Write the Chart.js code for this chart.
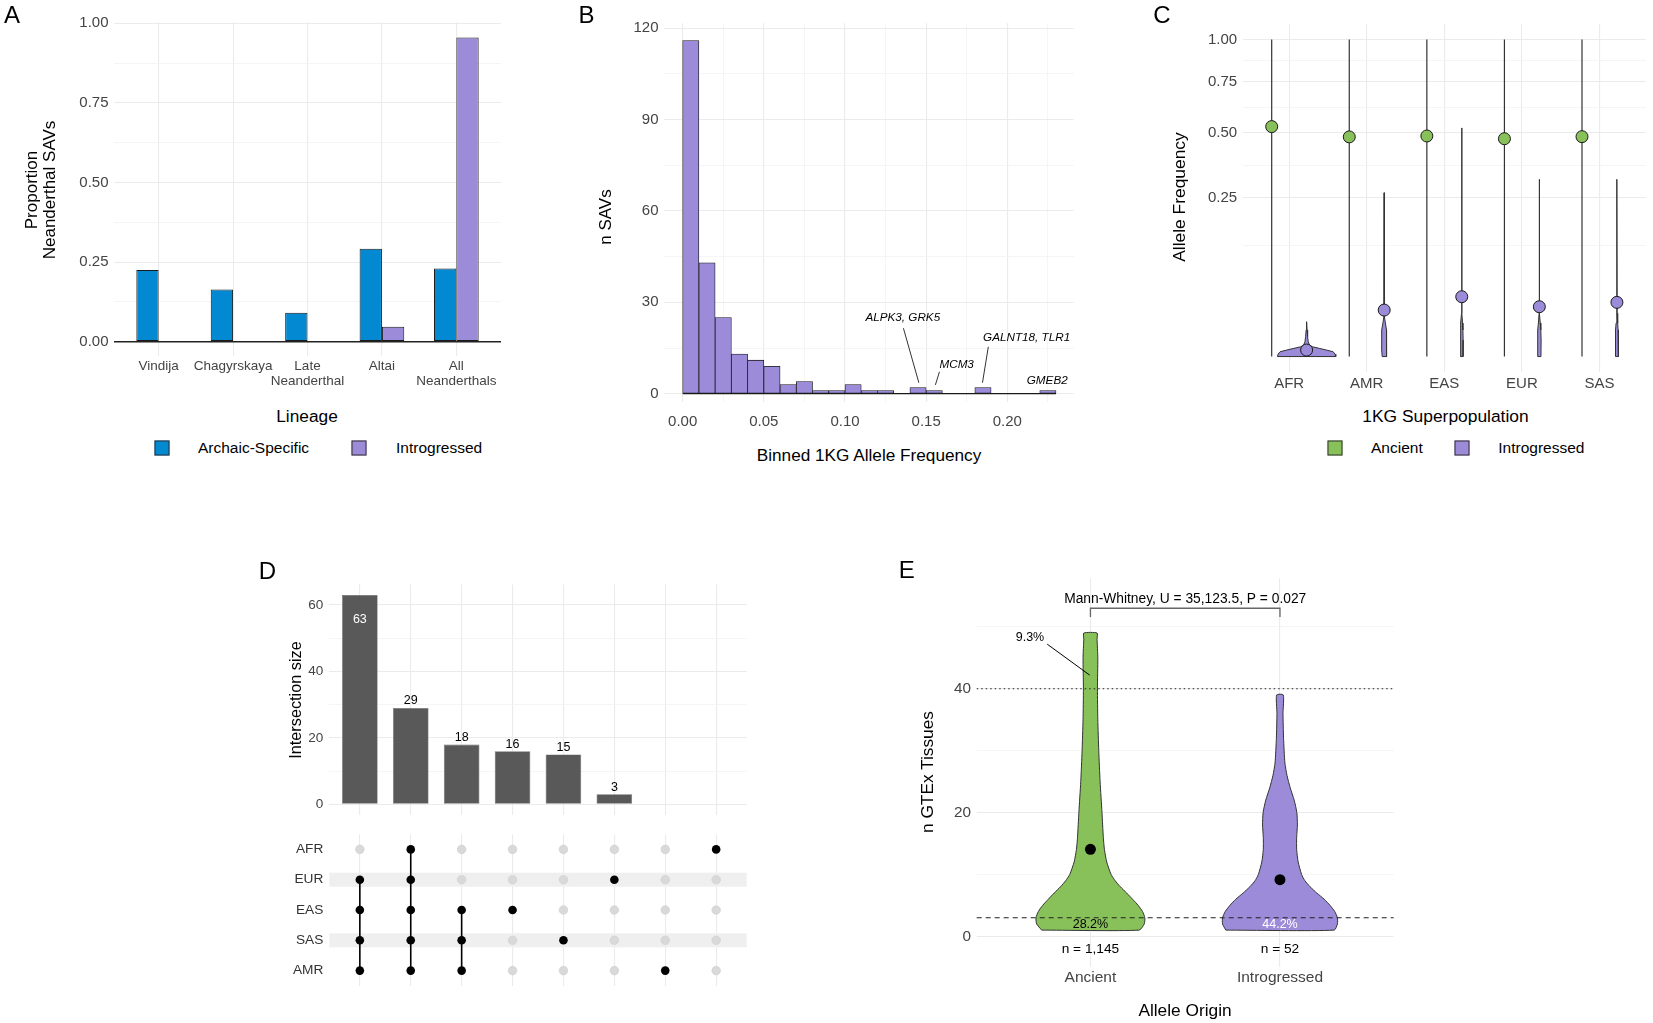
<!DOCTYPE html>
<html>
<head>
<meta charset="utf-8">
<title>Neanderthal SAVs</title>
<script src="https://cdn.jsdelivr.net/npm/chart.js@4.4.1/dist/chart.umd.min.js"></script>
<style>
  html, body { margin: 0; padding: 0; background: #fff; }
  body { position: relative; width: 1653px; height: 1023px; overflow: hidden; font-family: "Liberation Sans", Arial, sans-serif; color: #000; }
  canvas { position: absolute; }
  .t { position: absolute; line-height: 1; white-space: nowrap; transform: translate(-50%, -50%); }
  .t.l { transform: translate(0, -50%); }
  .t.v { transform: translate(-50%, -50%) rotate(-90deg); text-align: center; }
  .key { position: absolute; width: 15px; height: 15px; box-sizing: border-box; border: 1px solid #333; transform: translate(-50%, -50%); }
  .tag { font-size: 24px; }
</style>
</head>
<body>
<canvas id="chartA" width="520" height="400" style="left:0;top:0"></canvas>
<canvas id="chartB" width="540" height="440" style="left:540px;top:0"></canvas>
<canvas id="chartC" width="563" height="400" style="left:1090px;top:0"></canvas>
<canvas id="chartD" width="520" height="290" style="left:240px;top:540px"></canvas>
<canvas id="chartDm" width="520" height="180" style="left:240px;top:820px"></canvas>
<canvas id="chartE" width="560" height="480" style="left:860px;top:540px"></canvas>

<!-- panel A -->
<div class="t tag" style="left:12px;top:15px">A</div>
<div class="t v" style="left:41px;top:190px;font-size:17px;line-height:18.3px">Proportion<br>Neanderthal SAVs</div>
<div class="t" style="left:307px;top:417px;font-size:17.3px">Lineage</div>
<div class="key" style="left:161.5px;top:448px;background:#0388d2"></div>
<div class="t l" style="left:198px;top:448px;font-size:15.5px">Archaic-Specific</div>
<div class="key" style="left:359px;top:448px;background:#9b8bd9"></div>
<div class="t l" style="left:396px;top:448px;font-size:15.5px">Introgressed</div>

<!-- panel B -->
<div class="t tag" style="left:586.5px;top:15px">B</div>
<div class="t v" style="left:605.4px;top:216.7px;font-size:17px">n SAVs</div>
<div class="t" style="left:869px;top:455.7px;font-size:17.2px">Binned 1KG Allele Frequency</div>

<!-- panel C -->
<div class="t tag" style="left:1161.8px;top:15px">C</div>
<div class="t v" style="left:1179.8px;top:196.7px;font-size:17.4px">Allele Frequency</div>
<div class="t" style="left:1445.5px;top:417px;font-size:17.4px">1KG Superpopulation</div>
<div class="key" style="left:1334.7px;top:448px;background:#88c05a"></div>
<div class="t l" style="left:1371px;top:448px;font-size:15.5px">Ancient</div>
<div class="key" style="left:1461.6px;top:448px;background:#9b8bd9"></div>
<div class="t l" style="left:1498.3px;top:448px;font-size:15.5px">Introgressed</div>

<!-- panel D -->
<div class="t tag" style="left:267.5px;top:570.8px">D</div>
<div class="t v" style="left:295px;top:700px;font-size:16.3px">Intersection size</div>

<!-- panel E -->
<div class="t tag" style="left:906.7px;top:570px">E</div>
<div class="t v" style="left:927.5px;top:771.7px;font-size:17.3px">n GTEx Tissues</div>
<div class="t" style="left:1185px;top:1011px;font-size:17.3px">Allele Origin</div>

<script>
// ---------- A: share of Neanderthal SAVs per lineage ----------
const lineages = ['Vindija', 'Chagyrskaya', 'Late\nNeanderthal', 'Altai', 'All\nNeanderthals'];
const archaicProp = [0.225, 0.164, 0.091, 0.292, 0.230];
const introgressedProp = [0, 0, 0, 0.047, 0.955];
const propTicks = [0, 0.25, 0.5, 0.75, 1];
const propMinor = [0.125, 0.375, 0.625, 0.875];

// ---------- B: histogram of 1KG allele frequency ----------
const binWidth = 0.01;
const binStarts = [0, 0.01, 0.02, 0.03, 0.04, 0.05, 0.06, 0.07, 0.08, 0.09, 0.10, 0.11,
                   0.12, 0.13, 0.14, 0.15, 0.16, 0.17, 0.18, 0.19, 0.20, 0.21, 0.22];
const binCounts = [116, 43, 25, 13, 11, 9, 3, 4, 1, 1, 3, 1, 1, 0, 2, 1, 0, 0, 2, 0, 0, 0, 1];
const freqTicks = [0, 0.05, 0.10, 0.15, 0.20];
const freqMinor = [0.025, 0.075, 0.125, 0.175, 0.225];
const countTicks = [0, 30, 60, 90, 120];
const countMinor = [15, 45, 75, 105];

// ---------- C: allele frequency per superpopulation ----------
const pops = ['AFR', 'AMR', 'EAS', 'EUR', 'SAS'];
const ancientMean = [0.526, 0.480, 0.484, 0.472, 0.481];
const ancientLow = [0, 0, 0, 0, 0];
const ancientHigh = [1, 1, 1, 1, 1];
const introMean = [0.00042, 0.0215, 0.0356, 0.0247, 0.0292];
// violin outline of introgressed alleles: frequency levels and half widths
const introLevels = [
  [0, 0.00006, 0.00023, 0.00042, 0.00067, 0.00095, 0.0013, 0.0022, 0.0039, 0.007, 0.0121],
  [0, 0.00042, 0.0027, 0.007, 0.0112, 0.0158, 0.267],
  [0, 0.0027, 0.007, 0.0112, 0.0186, 0.52],
  [0, 0.0027, 0.007, 0.0112, 0.0186, 0.3125],
  [0, 0.0027, 0.007, 0.0112, 0.0186, 0.3125]
];
const introWidths = [
  [0.376, 0.367, 0.342, 0.256, 0.162, 0.077, 0.038, 0.021, 0.013, 0.006, 0],
  [0.026, 0.032, 0.034, 0.030, 0.016, 0.004, 0],
  [0.017, 0.018, 0.015, 0.010, 0.003, 0],
  [0.021, 0.023, 0.019, 0.012, 0.003, 0],
  [0.018, 0.020, 0.016, 0.010, 0.003, 0]
];
const afTicks = [0.25, 0.5, 0.75, 1];
const afMinor = [0.1225, 0.3648, 0.6194, 0.8705];

// ---------- D: upset plot ----------
const setNames = ['AFR', 'EUR', 'EAS', 'SAS', 'AMR'];
const intersections = [
  ['EUR', 'EAS', 'SAS', 'AMR'],
  ['AFR', 'EUR', 'EAS', 'SAS', 'AMR'],
  ['EAS', 'SAS', 'AMR'],
  ['EAS'],
  ['SAS'],
  ['EUR'],
  ['AMR'],
  ['AFR']
];
const intersectionSizes = [63, 29, 18, 16, 15, 3, 0, 0];
const sizeTicks = [0, 20, 40, 60];
const sizeMinor = [10, 30, 50];

// ---------- E: number of GTEx tissues ----------
const origins = ['Ancient', 'Introgressed'];
const originN = ['n = 1,145', 'n = 52'];
const tissueMean = [14.05, 9.15];
const lowShare = ['28.2%', '44.2%'];
const highShare = '9.3%';
const lowCut = 3;
const highCut = 40;
const ancientTissueLevels = [1, 2, 3, 4, 5, 6, 7, 8, 9, 10, 12, 14, 16, 20, 25, 30, 35, 40, 45, 48, 49];
const ancientTissueWidths = [0.257, 0.284, 0.287, 0.275, 0.252, 0.222, 0.191, 0.158, 0.130, 0.109, 0.086,
                             0.074, 0.068, 0.061, 0.051, 0.044, 0.039, 0.037, 0.039, 0.035, 0.035];
const introTissueLevels = [1, 2, 3, 4, 5, 6, 7, 8, 9, 10, 12, 14, 16, 18, 20, 22, 24, 26, 28, 32, 36, 39];
const introTissueWidths = [0.286, 0.303, 0.303, 0.289, 0.264, 0.233, 0.194, 0.159, 0.131, 0.114, 0.096,
                           0.088, 0.088, 0.092, 0.089, 0.075, 0.054, 0.037, 0.026, 0.019, 0.016, 0.0175];
const tissueTicks = [0, 20, 40];
const tissueMinor = [10, 30, 50];

// ---------- styling ----------
const FONT = '"Liberation Sans", Arial, sans-serif';
const BLUE = '#0388d2', PURPLE = '#9b8bd9', GREEN = '#88c05a';
const GRID = '#ebebeb', GRID_MINOR = '#f3f3f3', INK = '#1a1a1a';

Chart.defaults.font.family = FONT;
Chart.defaults.color = '#444';
Chart.defaults.animation = false;
Chart.defaults.responsive = false;
Chart.defaults.devicePixelRatio = 1;
Chart.defaults.events = [];
Chart.defaults.plugins.legend.display = false;
Chart.defaults.plugins.tooltip.enabled = false;

// square-root axis, like ggplot's scale_y_sqrt
class SqrtScale extends Chart.LinearScale {
  static id = 'sqrt';
  static defaults = {};
  _t(v) { return Math.sign(v) * Math.sqrt(Math.abs(v)); }
  getPixelForValue(v) {
    const a = this._t(this.min), b = this._t(this.max);
    return this.getPixelForDecimal((this._t(v) - a) / (b - a));
  }
  getValueForPixel(p) {
    const a = this._t(this.min), b = this._t(this.max);
    const t = a + this.getDecimalForPixel(p) * (b - a);
    return Math.sign(t) * t * t;
  }
}
Chart.register(SqrtScale);

const setTicks = values => s => { s.ticks = values.map(v => ({ value: v })); };
const gridFor = majors => ({
  drawTicks: false,
  color: c => majors.includes(c.tick.value) ? GRID : GRID_MINOR,
  lineWidth: c => majors.includes(c.tick.value) ? 1.1 : 0.8
});
const noBorder = { display: false };

function txt(ctx, s, x, y, font, color, align) {
  ctx.font = font;
  ctx.fillStyle = color || '#000';
  ctx.textAlign = align || 'center';
  ctx.textBaseline = 'middle';
  ctx.fillText(s, x, y);
}
function seg(ctx, x1, y1, x2, y2) {
  ctx.beginPath();
  ctx.moveTo(x1, y1);
  ctx.lineTo(x2, y2);
  ctx.stroke();
}
function violin(center, levels, widths) {
  const left = levels.map((v, i) => ({ x: center - widths[i], y: v }));
  const right = levels.map((v, i) => ({ x: center + widths[i], y: v })).reverse();
  return left.concat(right, [left[0]]);
}

// ---------- A ----------
new Chart(document.getElementById('chartA'), {
  type: 'bar',
  data: {
    datasets: [
      { label: 'Archaic-Specific', data: archaicProp.map((v, i) => ({ x: i + 1, y: v })), backgroundColor: BLUE },
      { label: 'Introgressed', data: introgressedProp.map((v, i) => ({ x: i + 1, y: v })), backgroundColor: PURPLE }
    ]
  },
  options: {
    layout: { padding: { top: 22.3, right: 19 } },
    datasets: { bar: { borderColor: INK, borderWidth: 1, borderSkipped: false, categoryPercentage: 0.6, barPercentage: 1 } },
    scales: {
      x: {
        type: 'linear', min: 0.4, max: 5.6, offset: false,
        grid: { drawTicks: false, offset: false, color: GRID, lineWidth: 1.1 },
        border: noBorder,
        afterBuildTicks: setTicks(lineages.map((_, i) => i + 1)),
        ticks: { callback: v => lineages[v - 1].split('\n'), font: { size: 13.5, lineHeight: 1.07 }, padding: 3.5, maxRotation: 0, autoSkip: false },
        afterFit: s => { s.height = 44; }
      },
      y: {
        min: -0.045, max: 1.003,
        grid: {
          drawTicks: false,
          color: c => c.tick.value === 0 ? '#222' : (propTicks.includes(c.tick.value) ? GRID : GRID_MINOR),
          lineWidth: c => c.tick.value === 0 ? 1.4 : (propTicks.includes(c.tick.value) ? 1.1 : 0.8)
        },
        border: noBorder,
        afterBuildTicks: setTicks(propTicks.concat(propMinor)),
        ticks: { callback: v => propTicks.includes(v) ? v.toFixed(2) : '', font: { size: 15 }, padding: 5.5 },
        afterFit: s => { s.width = 114; }
      }
    }
  }
});

// ---------- B ----------
const geneNotes = [
  { text: 'ALPK3, GRK5', at: [0.1356, 24.9], from: [0.1360, 21.5], to: [0.1455, 3.6] },
  { text: 'MCM3', at: [0.1688, 9.65], from: [0.1582, 7.2], to: [0.1557, 2.9] },
  { text: 'GALNT18, TLR1', at: [0.2119, 18.4], from: [0.1883, 15.4], to: [0.1847, 3.6] },
  { text: 'GMEB2', at: [0.2246, 4.2] }
];
const genePlugin = {
  id: 'genes',
  afterDatasetsDraw(chart) {
    const { ctx, scales: { x, y } } = chart;
    ctx.save();
    ctx.strokeStyle = '#333';
    ctx.lineWidth = 1;
    geneNotes.forEach(n => {
      if (n.from) seg(ctx, x.getPixelForValue(n.from[0]), y.getPixelForValue(n.from[1]), x.getPixelForValue(n.to[0]), y.getPixelForValue(n.to[1]));
      txt(ctx, n.text, x.getPixelForValue(n.at[0]), y.getPixelForValue(n.at[1]), 'italic 11.7px ' + FONT, '#000');
    });
    ctx.restore();
  }
};
new Chart(document.getElementById('chartB'), {
  type: 'bar',
  data: {
    datasets: [
      {
        type: 'line', order: 0, pointRadius: 0, borderColor: INK, borderWidth: 1.2,
        data: [{ x: binStarts[0], y: 0 }, { x: binStarts[binStarts.length - 1] + binWidth, y: 0 }]
      },
      {
        order: 1, backgroundColor: PURPLE, borderColor: INK, borderWidth: 0.8, borderSkipped: false,
        categoryPercentage: 1, barPercentage: 1,
        data: binCounts.map((v, i) => ({ x: binStarts[i] + binWidth / 2, y: v }))
      }
    ]
  },
  options: {
    layout: { padding: { top: 23.3, right: 6.3 } },
    scales: {
      x: {
        type: 'linear', min: -0.0115, max: 0.2409, offset: false,
        grid: Object.assign(gridFor(freqTicks), { offset: false }),
        border: noBorder,
        afterBuildTicks: setTicks(freqTicks.concat(freqMinor)),
        ticks: { callback: v => freqTicks.includes(v) ? v.toFixed(2) : '', font: { size: 15 }, padding: 11, maxRotation: 0, autoSkip: false },
        afterFit: s => { s.height = 38.3; }
      },
      y: {
        min: -2.63, max: 121.64,
        grid: gridFor(countTicks),
        border: noBorder,
        afterBuildTicks: setTicks(countTicks.concat(countMinor)),
        ticks: { callback: v => countTicks.includes(v) ? String(v) : '', font: { size: 15 }, padding: 5.5 },
        afterFit: s => { s.width = 124; }
      }
    }
  },
  plugins: [genePlugin]
});

// ---------- C ----------
const dodge = 0.225;
const cSets = [
  { data: pops.map((_, i) => ({ x: i + 1 - dodge, y: ancientMean[i] })), backgroundColor: GREEN, order: 0 },
  { data: pops.map((_, i) => ({ x: i + 1 + dodge, y: introMean[i] })), backgroundColor: PURPLE, order: 0 }
].map(d => Object.assign(d, { pointRadius: 6, borderColor: INK, borderWidth: 1 }));
pops.forEach((_, i) => {
  cSets.push({
    type: 'line', order: 2, pointRadius: 0, borderColor: '#333', borderWidth: 1.2, fill: false,
    data: [{ x: i + 1 - dodge, y: ancientLow[i] }, { x: i + 1 - dodge, y: ancientHigh[i] }]
  });
  cSets.push({
    type: 'line', order: 1, pointRadius: 0, borderColor: '#333', borderWidth: 1, tension: 0,
    fill: 'shape', backgroundColor: PURPLE,
    data: violin(i + 1 + dodge, introLevels[i], introWidths[i])
  });
});
new Chart(document.getElementById('chartC'), {
  type: 'scatter',
  data: { datasets: cSets },
  options: {
    layout: { padding: { top: 23.65, right: 5.4 } },
    scales: {
      x: {
        type: 'linear', min: 0.4, max: 5.6,
        grid: { drawTicks: false, color: GRID, lineWidth: 1.1 },
        border: noBorder,
        afterBuildTicks: setTicks(pops.map((_, i) => i + 1)),
        ticks: { callback: v => pops[v - 1], font: { size: 15 }, padding: 2.6, maxRotation: 0, autoSkip: false },
        afterFit: s => { s.height = 27.6; }
      },
      y: {
        type: 'sqrt', min: -0.0025, max: 1.1025, bounds: 'data',
        grid: gridFor(afTicks),
        border: noBorder,
        afterBuildTicks: setTicks(afTicks.concat(afMinor)),
        ticks: { callback: v => afTicks.includes(v) ? v.toFixed(2) : '', font: { size: 15 }, padding: 5.5 },
        afterFit: s => { s.width = 152.6; }
      }
    }
  }
});

// ---------- D (bars) ----------
const barLabels = {
  id: 'barLabels',
  afterDatasetsDraw(chart) {
    const { ctx } = chart;
    const top = Math.max(...intersectionSizes);
    ctx.save();
    chart.getDatasetMeta(0).data.forEach((bar, i) => {
      const v = intersectionSizes[i];
      if (!v) return;
      if (v === top) txt(ctx, String(v), bar.x, bar.y + 24, '12.5px ' + FONT, '#fff');
      else txt(ctx, String(v), bar.x, bar.y - 7, '12.5px ' + FONT, '#000');
    });
    ctx.restore();
  }
};
new Chart(document.getElementById('chartD'), {
  type: 'bar',
  data: {
    datasets: [{
      data: intersectionSizes.map((v, i) => ({ x: i + 1, y: v })),
      backgroundColor: '#595959', borderColor: '#6a6a6a', borderWidth: 0.6, borderSkipped: false,
      categoryPercentage: 0.7, barPercentage: 1
    }]
  },
  options: {
    layout: { padding: { top: 44.6, right: 13.3 } },
    scales: {
      x: {
        type: 'linear', min: 0.4, max: 8.6, offset: false,
        grid: { drawTicks: false, offset: false, color: GRID, lineWidth: 1.1 },
        border: noBorder,
        afterBuildTicks: setTicks(intersectionSizes.map((_, i) => i + 1)),
        ticks: { display: false },
        afterFit: s => { s.height = 15.2; }
      },
      y: {
        min: -3.15, max: 66.15,
        grid: gridFor(sizeTicks),
        border: noBorder,
        afterBuildTicks: setTicks(sizeTicks.concat(sizeMinor)),
        ticks: { callback: v => sizeTicks.includes(v) ? String(v) : '', font: { size: 13.5 }, padding: 6 },
        afterFit: s => { s.width = 89.3; }
      }
    }
  },
  plugins: [barLabels]
});

// ---------- D (membership matrix) ----------
const rowOf = name => setNames.length - setNames.indexOf(name);
const onDots = [], offDots = [], links = [];
intersections.forEach((members, i) => {
  setNames.forEach(name => {
    (members.includes(name) ? onDots : offDots).push({ x: i + 1, y: rowOf(name) });
  });
  if (members.length > 1) {
    const rows = members.map(rowOf);
    links.push({
      type: 'line', order: 2, pointRadius: 0, borderColor: '#000', borderWidth: 1.6,
      data: [{ x: i + 1, y: Math.min(...rows) }, { x: i + 1, y: Math.max(...rows) }]
    });
  }
});
const rowBands = {
  id: 'rowBands',
  beforeDatasetsDraw(chart) {
    const { ctx, chartArea: a, scales: { y } } = chart;
    ctx.save();
    ctx.fillStyle = '#efefef';
    setNames.forEach((name, i) => {
      if (i % 2 === 1) {
        const py = y.getPixelForValue(rowOf(name));
        ctx.fillRect(a.left, py - 7, a.right - a.left, 14);
      }
    });
    ctx.restore();
  }
};
new Chart(document.getElementById('chartDm'), {
  type: 'scatter',
  data: {
    datasets: [
      { data: onDots, pointRadius: 4.3, backgroundColor: '#000', borderWidth: 0, order: 0 },
      { data: offDots, pointRadius: 4.3, backgroundColor: '#d9d9d9', borderColor: '#cdcdcd', borderWidth: 0.6, order: 1 }
    ].concat(links)
  },
  options: {
    layout: { padding: { top: 11.2, right: 13.3 } },
    scales: {
      x: {
        type: 'linear', min: 0.4, max: 8.6,
        grid: { drawTicks: false, color: GRID, lineWidth: 1.1 },
        border: noBorder,
        afterBuildTicks: setTicks(intersectionSizes.map((_, i) => i + 1)),
        ticks: { display: false },
        afterFit: s => { s.height = 13.8; }
      },
      y: {
        type: 'linear', min: 0.5, max: setNames.length + 0.5,
        grid: { display: false, drawTicks: false },
        border: noBorder,
        afterBuildTicks: setTicks(setNames.map(rowOf)),
        ticks: { callback: v => setNames[setNames.length - v], font: { size: 13.7 }, color: '#333', padding: 6 },
        afterFit: s => { s.width = 89.3; }
      }
    }
  },
  plugins: [rowBands]
});

// ---------- E ----------
const originNotes = {
  id: 'originNotes',
  afterDatasetsDraw(chart) {
    const { ctx, chartArea: a, scales: { x, y } } = chart;
    ctx.save();
    // tissue thresholds
    ctx.strokeStyle = '#222';
    ctx.lineWidth = 1.1;
    [[lowCut, [5, 4]], [highCut, [1.5, 3]]].forEach(([v, dash]) => {
      ctx.setLineDash(dash);
      seg(ctx, a.left, y.getPixelForValue(v), a.right, y.getPixelForValue(v));
    });
    ctx.setLineDash([]);
    // share below / above thresholds and sample sizes
    origins.forEach((_, i) => {
      txt(ctx, lowShare[i], x.getPixelForValue(i + 1), y.getPixelForValue(1.83), '12.5px ' + FONT, i === 0 ? '#000' : '#fff');
      txt(ctx, originN[i], x.getPixelForValue(i + 1), y.getPixelForValue(-2.1), '13.7px ' + FONT, '#000');
    });
    ctx.strokeStyle = '#000';
    ctx.lineWidth = 1;
    seg(ctx, x.getPixelForValue(0.772), y.getPixelForValue(47.2), x.getPixelForValue(0.996), y.getPixelForValue(42.2));
    txt(ctx, highShare, x.getPixelForValue(0.681), y.getPixelForValue(48.3), '12.5px ' + FONT, '#000');
    // Mann-Whitney bracket
    const x1 = x.getPixelForValue(1), x2 = x.getPixelForValue(2);
    const yb = y.getPixelForValue(53), yl = y.getPixelForValue(51.6);
    ctx.strokeStyle = '#666';
    ctx.lineWidth = 1.3;
    ctx.beginPath();
    ctx.moveTo(x1, yl); ctx.lineTo(x1, yb); ctx.lineTo(x2, yb); ctx.lineTo(x2, yl);
    ctx.stroke();
    txt(ctx, 'Mann-Whitney, U = 35,123.5, P = 0.027', (x1 + x2) / 2, y.getPixelForValue(54.4), '13.8px ' + FONT, '#000');
    ctx.restore();
  }
};
new Chart(document.getElementById('chartE'), {
  type: 'scatter',
  data: {
    datasets: [
      { data: tissueMean.map((v, i) => ({ x: i + 1, y: v })), pointRadius: 5.5, backgroundColor: '#000', borderWidth: 0, order: 0 },
      {
        type: 'line', order: 1, pointRadius: 0, borderColor: '#333', borderWidth: 1, tension: 0.2,
        borderJoinStyle: 'round', fill: 'shape', backgroundColor: GREEN,
        data: violin(1, ancientTissueLevels, ancientTissueWidths)
      },
      {
        type: 'line', order: 1, pointRadius: 0, borderColor: '#333', borderWidth: 1, tension: 0.2,
        borderJoinStyle: 'round', fill: 'shape', backgroundColor: PURPLE,
        data: violin(2, introTissueLevels, introTissueWidths)
      }
    ]
  },
  options: {
    layout: { padding: { top: 38.3, right: 26.3 } },
    scales: {
      x: {
        type: 'linear', min: 0.4, max: 2.6,
        grid: { drawTicks: false, color: GRID, lineWidth: 1.1 },
        border: noBorder,
        afterBuildTicks: setTicks(origins.map((_, i) => i + 1)),
        ticks: { callback: v => origins[v - 1], font: { size: 15.5 }, padding: 1.6, maxRotation: 0, autoSkip: false },
        afterFit: s => { s.height = 53.3; }
      },
      y: {
        min: -4.91, max: 57.84,
        grid: gridFor(tissueTicks),
        border: noBorder,
        afterBuildTicks: setTicks(tissueTicks.concat(tissueMinor)),
        ticks: { callback: v => tissueTicks.includes(v) ? String(v) : '', font: { size: 15.3 }, padding: 5.7 },
        afterFit: s => { s.width = 116.7; }
      }
    }
  },
  plugins: [originNotes]
});
</script>
</body>
</html>
